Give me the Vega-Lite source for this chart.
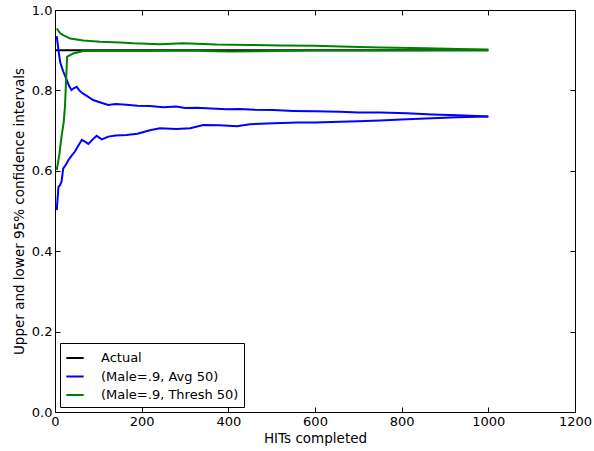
{
  "$schema": "https://vega.github.io/schema/vega-lite/v6.json",
  "width": 520,
  "height": 402,
  "autosize": {"type": "none"},
  "padding": {"left": 55, "top": 10, "right": 19, "bottom": 39},
  "background": "white",
  "config": {
    "font": "DejaVu Sans",
    "view": {"stroke": "black", "strokeWidth": 1},
    "axis": {
      "grid": false,
      "domainColor": "black",
      "tickColor": "black",
      "labelColor": "black",
      "titleColor": "black",
      "labelFontSize": 13,
      "titleFontSize": 13.5,
      "titleFontWeight": "normal",
      "tickSize": -5,
      "labelPadding": 8,
      "labelFlush": false
    },
    "legend": {
      "orient": "bottom-left",
      "offset": 5,
      "strokeColor": "black",
      "fillColor": "white",
      "padding": 5,
      "cornerRadius": 0,
      "labelFontSize": 13,
      "labelColor": "black",
      "symbolType": "stroke",
      "symbolStrokeWidth": 2,
      "symbolSize": 300,
      "rowPadding": 1.5,
      "labelOffset": 16,
      "title": null
    }
  },
  "datasets": {
    "pts": [
      {"s": "Actual", "b": "a", "x": 0, "y": 0.9},
      {"s": "Actual", "b": "a", "x": 1000, "y": 0.9},

      {"s": "(Male=.9, Avg 50)", "b": "u", "x": 4, "y": 0.935},
      {"s": "(Male=.9, Avg 50)", "b": "u", "x": 8, "y": 0.9},
      {"s": "(Male=.9, Avg 50)", "b": "u", "x": 12, "y": 0.87},
      {"s": "(Male=.9, Avg 50)", "b": "u", "x": 19, "y": 0.847},
      {"s": "(Male=.9, Avg 50)", "b": "u", "x": 27, "y": 0.826},
      {"s": "(Male=.9, Avg 50)", "b": "u", "x": 33, "y": 0.81},
      {"s": "(Male=.9, Avg 50)", "b": "u", "x": 38, "y": 0.801},
      {"s": "(Male=.9, Avg 50)", "b": "u", "x": 44, "y": 0.806},
      {"s": "(Male=.9, Avg 50)", "b": "u", "x": 50, "y": 0.809},
      {"s": "(Male=.9, Avg 50)", "b": "u", "x": 56, "y": 0.8},
      {"s": "(Male=.9, Avg 50)", "b": "u", "x": 62, "y": 0.794},
      {"s": "(Male=.9, Avg 50)", "b": "u", "x": 75, "y": 0.785},
      {"s": "(Male=.9, Avg 50)", "b": "u", "x": 88, "y": 0.776},
      {"s": "(Male=.9, Avg 50)", "b": "u", "x": 105, "y": 0.77},
      {"s": "(Male=.9, Avg 50)", "b": "u", "x": 123, "y": 0.764},
      {"s": "(Male=.9, Avg 50)", "b": "u", "x": 140, "y": 0.766},
      {"s": "(Male=.9, Avg 50)", "b": "u", "x": 165, "y": 0.764},
      {"s": "(Male=.9, Avg 50)", "b": "u", "x": 190, "y": 0.762},
      {"s": "(Male=.9, Avg 50)", "b": "u", "x": 219, "y": 0.761},
      {"s": "(Male=.9, Avg 50)", "b": "u", "x": 250, "y": 0.758},
      {"s": "(Male=.9, Avg 50)", "b": "u", "x": 280, "y": 0.76},
      {"s": "(Male=.9, Avg 50)", "b": "u", "x": 300, "y": 0.756},
      {"s": "(Male=.9, Avg 50)", "b": "u", "x": 327, "y": 0.757},
      {"s": "(Male=.9, Avg 50)", "b": "u", "x": 360, "y": 0.755},
      {"s": "(Male=.9, Avg 50)", "b": "u", "x": 396, "y": 0.753},
      {"s": "(Male=.9, Avg 50)", "b": "u", "x": 427, "y": 0.754},
      {"s": "(Male=.9, Avg 50)", "b": "u", "x": 460, "y": 0.752},
      {"s": "(Male=.9, Avg 50)", "b": "u", "x": 504, "y": 0.751},
      {"s": "(Male=.9, Avg 50)", "b": "u", "x": 550, "y": 0.749},
      {"s": "(Male=.9, Avg 50)", "b": "u", "x": 600, "y": 0.748},
      {"s": "(Male=.9, Avg 50)", "b": "u", "x": 658, "y": 0.747},
      {"s": "(Male=.9, Avg 50)", "b": "u", "x": 700, "y": 0.745},
      {"s": "(Male=.9, Avg 50)", "b": "u", "x": 750, "y": 0.745},
      {"s": "(Male=.9, Avg 50)", "b": "u", "x": 812, "y": 0.743},
      {"s": "(Male=.9, Avg 50)", "b": "u", "x": 870, "y": 0.74},
      {"s": "(Male=.9, Avg 50)", "b": "u", "x": 930, "y": 0.738},
      {"s": "(Male=.9, Avg 50)", "b": "u", "x": 1000, "y": 0.735},

      {"s": "(Male=.9, Avg 50)", "b": "l", "x": 4, "y": 0.502},
      {"s": "(Male=.9, Avg 50)", "b": "l", "x": 8, "y": 0.56},
      {"s": "(Male=.9, Avg 50)", "b": "l", "x": 12, "y": 0.565},
      {"s": "(Male=.9, Avg 50)", "b": "l", "x": 15, "y": 0.573},
      {"s": "(Male=.9, Avg 50)", "b": "l", "x": 19, "y": 0.606},
      {"s": "(Male=.9, Avg 50)", "b": "l", "x": 25, "y": 0.615},
      {"s": "(Male=.9, Avg 50)", "b": "l", "x": 31, "y": 0.627},
      {"s": "(Male=.9, Avg 50)", "b": "l", "x": 38, "y": 0.637},
      {"s": "(Male=.9, Avg 50)", "b": "l", "x": 46, "y": 0.648},
      {"s": "(Male=.9, Avg 50)", "b": "l", "x": 55, "y": 0.665},
      {"s": "(Male=.9, Avg 50)", "b": "l", "x": 62, "y": 0.677},
      {"s": "(Male=.9, Avg 50)", "b": "l", "x": 70, "y": 0.672},
      {"s": "(Male=.9, Avg 50)", "b": "l", "x": 77, "y": 0.667},
      {"s": "(Male=.9, Avg 50)", "b": "l", "x": 86, "y": 0.677},
      {"s": "(Male=.9, Avg 50)", "b": "l", "x": 96, "y": 0.687},
      {"s": "(Male=.9, Avg 50)", "b": "l", "x": 108, "y": 0.678},
      {"s": "(Male=.9, Avg 50)", "b": "l", "x": 123, "y": 0.685},
      {"s": "(Male=.9, Avg 50)", "b": "l", "x": 140, "y": 0.688},
      {"s": "(Male=.9, Avg 50)", "b": "l", "x": 165, "y": 0.689},
      {"s": "(Male=.9, Avg 50)", "b": "l", "x": 190, "y": 0.692},
      {"s": "(Male=.9, Avg 50)", "b": "l", "x": 219, "y": 0.701},
      {"s": "(Male=.9, Avg 50)", "b": "l", "x": 242, "y": 0.706},
      {"s": "(Male=.9, Avg 50)", "b": "l", "x": 280, "y": 0.704},
      {"s": "(Male=.9, Avg 50)", "b": "l", "x": 312, "y": 0.706},
      {"s": "(Male=.9, Avg 50)", "b": "l", "x": 342, "y": 0.714},
      {"s": "(Male=.9, Avg 50)", "b": "l", "x": 380, "y": 0.713},
      {"s": "(Male=.9, Avg 50)", "b": "l", "x": 420, "y": 0.711},
      {"s": "(Male=.9, Avg 50)", "b": "l", "x": 450, "y": 0.716},
      {"s": "(Male=.9, Avg 50)", "b": "l", "x": 504, "y": 0.718},
      {"s": "(Male=.9, Avg 50)", "b": "l", "x": 560, "y": 0.72},
      {"s": "(Male=.9, Avg 50)", "b": "l", "x": 600, "y": 0.72},
      {"s": "(Male=.9, Avg 50)", "b": "l", "x": 658, "y": 0.722},
      {"s": "(Male=.9, Avg 50)", "b": "l", "x": 700, "y": 0.723},
      {"s": "(Male=.9, Avg 50)", "b": "l", "x": 750, "y": 0.725},
      {"s": "(Male=.9, Avg 50)", "b": "l", "x": 812, "y": 0.728},
      {"s": "(Male=.9, Avg 50)", "b": "l", "x": 870, "y": 0.731},
      {"s": "(Male=.9, Avg 50)", "b": "l", "x": 927, "y": 0.733},
      {"s": "(Male=.9, Avg 50)", "b": "l", "x": 1000, "y": 0.735},

      {"s": "(Male=.9, Thresh 50)", "b": "u", "x": 4, "y": 0.954},
      {"s": "(Male=.9, Thresh 50)", "b": "u", "x": 12, "y": 0.942},
      {"s": "(Male=.9, Thresh 50)", "b": "u", "x": 20, "y": 0.937},
      {"s": "(Male=.9, Thresh 50)", "b": "u", "x": 35, "y": 0.929},
      {"s": "(Male=.9, Thresh 50)", "b": "u", "x": 65, "y": 0.924},
      {"s": "(Male=.9, Thresh 50)", "b": "u", "x": 104, "y": 0.921},
      {"s": "(Male=.9, Thresh 50)", "b": "u", "x": 150, "y": 0.919},
      {"s": "(Male=.9, Thresh 50)", "b": "u", "x": 181, "y": 0.917},
      {"s": "(Male=.9, Thresh 50)", "b": "u", "x": 242, "y": 0.915},
      {"s": "(Male=.9, Thresh 50)", "b": "u", "x": 296, "y": 0.917},
      {"s": "(Male=.9, Thresh 50)", "b": "u", "x": 373, "y": 0.914},
      {"s": "(Male=.9, Thresh 50)", "b": "u", "x": 450, "y": 0.913},
      {"s": "(Male=.9, Thresh 50)", "b": "u", "x": 520, "y": 0.912},
      {"s": "(Male=.9, Thresh 50)", "b": "u", "x": 600, "y": 0.911},
      {"s": "(Male=.9, Thresh 50)", "b": "u", "x": 658, "y": 0.909},
      {"s": "(Male=.9, Thresh 50)", "b": "u", "x": 750, "y": 0.907},
      {"s": "(Male=.9, Thresh 50)", "b": "u", "x": 858, "y": 0.905},
      {"s": "(Male=.9, Thresh 50)", "b": "u", "x": 930, "y": 0.903},
      {"s": "(Male=.9, Thresh 50)", "b": "u", "x": 1000, "y": 0.902},

      {"s": "(Male=.9, Thresh 50)", "b": "l", "x": 4, "y": 0.602},
      {"s": "(Male=.9, Thresh 50)", "b": "l", "x": 10, "y": 0.64},
      {"s": "(Male=.9, Thresh 50)", "b": "l", "x": 15, "y": 0.685},
      {"s": "(Male=.9, Thresh 50)", "b": "l", "x": 20, "y": 0.72},
      {"s": "(Male=.9, Thresh 50)", "b": "l", "x": 23, "y": 0.76},
      {"s": "(Male=.9, Thresh 50)", "b": "l", "x": 28, "y": 0.884},
      {"s": "(Male=.9, Thresh 50)", "b": "l", "x": 35, "y": 0.888},
      {"s": "(Male=.9, Thresh 50)", "b": "l", "x": 42, "y": 0.892},
      {"s": "(Male=.9, Thresh 50)", "b": "l", "x": 65, "y": 0.898},
      {"s": "(Male=.9, Thresh 50)", "b": "l", "x": 100, "y": 0.898},
      {"s": "(Male=.9, Thresh 50)", "b": "l", "x": 200, "y": 0.898},
      {"s": "(Male=.9, Thresh 50)", "b": "l", "x": 300, "y": 0.899},
      {"s": "(Male=.9, Thresh 50)", "b": "l", "x": 400, "y": 0.897},
      {"s": "(Male=.9, Thresh 50)", "b": "l", "x": 500, "y": 0.898},
      {"s": "(Male=.9, Thresh 50)", "b": "l", "x": 600, "y": 0.899},
      {"s": "(Male=.9, Thresh 50)", "b": "l", "x": 700, "y": 0.899},
      {"s": "(Male=.9, Thresh 50)", "b": "l", "x": 800, "y": 0.899},
      {"s": "(Male=.9, Thresh 50)", "b": "l", "x": 900, "y": 0.9},
      {"s": "(Male=.9, Thresh 50)", "b": "l", "x": 1000, "y": 0.9}
    ]
  },
  "data": {"name": "pts"},
  "layer": [
    {
      "transform": [{"filter": "datum.s === 'Actual'"}],
      "mark": {"type": "line", "strokeWidth": 2, "clip": true},
      "encoding": {
        "x": {"field": "x", "type": "quantitative", "scale": {"domain": [0, 1200], "nice": false},
              "axis": {"orient": "top", "labels": false, "title": null, "values": [0, 200, 400, 600, 800, 1000, 1200], "domain": false}},
        "y": {"field": "y", "type": "quantitative", "scale": {"domain": [0, 1], "nice": false},
              "axis": {"orient": "right", "labels": false, "title": null, "values": [0, 0.2, 0.4, 0.6, 0.8, 1.0], "domain": false}},
        "color": {"field": "s", "type": "nominal",
                  "scale": {"domain": ["Actual", "(Male=.9, Avg 50)", "(Male=.9, Thresh 50)"], "range": ["#000000", "#0000ff", "#008000"]}},
        "detail": {"field": "b"}
      }
    },
    {
      "transform": [{"filter": "datum.s !== 'Actual'"}],
      "mark": {"type": "line", "strokeWidth": 2, "clip": true},
      "encoding": {
        "x": {"field": "x", "type": "quantitative", "title": "HITs completed",
              "axis": {"orient": "bottom", "values": [0, 200, 400, 600, 800, 1000, 1200], "format": "d", "titlePadding": 3}},
        "y": {"field": "y", "type": "quantitative", "title": "Upper and lower 95% confidence intervals",
              "axis": {"orient": "left", "values": [0, 0.2, 0.4, 0.6, 0.8, 1.0], "format": ".1f", "titlePadding": 5}},
        "color": {"field": "s", "type": "nominal",
                  "scale": {"domain": ["Actual", "(Male=.9, Avg 50)", "(Male=.9, Thresh 50)"], "range": ["#000000", "#0000ff", "#008000"]}},
        "detail": {"field": "b"}
      }
    }
  ],
  "resolve": {"axis": {"x": "independent", "y": "independent"}}
}
